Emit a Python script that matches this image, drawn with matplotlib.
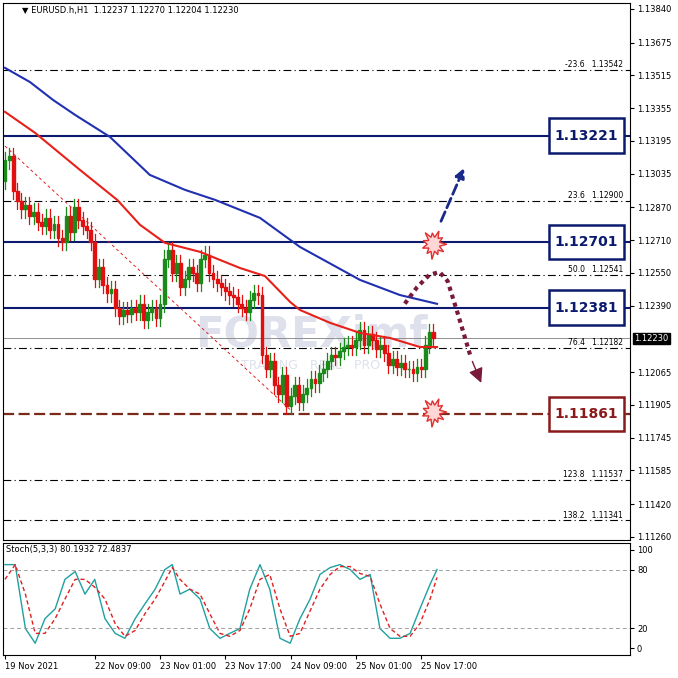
import matplotlib
matplotlib.use("Agg")
import matplotlib.pyplot as plt
import numpy as np
from matplotlib.patches import Rectangle, Polygon

closes = [1.1310,1.1312,1.1295,1.1290,1.1286,1.1288,1.1283,1.1285,1.1280,1.1278,
          1.1282,1.1276,1.1279,1.1272,1.1270,1.1283,1.1275,1.1287,1.1281,1.1278,
          1.1276,1.1270,1.1252,1.1258,1.1249,1.1245,1.1247,1.1238,1.1234,1.1237,
          1.1235,1.1238,1.1236,1.1240,1.1232,1.1236,1.1238,1.1233,1.1240,1.1262,
          1.1266,1.1255,1.1260,1.1248,1.1252,1.1258,1.1255,1.1250,1.1262,1.1264,
          1.1255,1.1252,1.1250,1.1248,1.1246,1.1244,1.1243,1.1240,1.1238,1.1236,
          1.1242,1.1245,1.1244,1.1215,1.1208,1.1212,1.1200,1.1196,1.1205,1.1190,
          1.1195,1.1200,1.1192,1.1196,1.1199,1.1203,1.1201,1.1206,1.1208,1.1212,
          1.1215,1.1214,1.1217,1.1219,1.1220,1.1219,1.1222,1.1227,1.1220,1.1225,
          1.1222,1.1218,1.1220,1.1216,1.1210,1.1213,1.1209,1.1211,1.1208,1.1208,
          1.1206,1.1209,1.1208,1.1220,1.1226,1.1223]
first_open = 1.1300
wick = 0.0004

red_ma_x = [0,7.4,18.4,27.5,33.1,39.2,47.8,57.6,63.7,69.9,72.3,79.7,87,94.4,101.7,105.9]
red_ma_y = [1.13337,1.13234,1.13053,1.12907,1.12785,1.12697,1.12653,1.12574,1.12535,1.12408,
            1.12369,1.12306,1.12257,1.12232,1.12188,1.12188]
blue_ma_x = [0,6.1,11.8,17.2,25.7,35.5,44.1,51.5,62.5,72.3,87,96.8,105.9]
blue_ma_y = [1.13552,1.13483,1.13395,1.13322,1.13215,1.13029,1.12956,1.12907,1.12819,1.12677,
             1.12516,1.12442,1.12399]

hlines_solid = [1.13221, 1.12701, 1.12381]
support = 1.11861
fib_levels = [1.13542, 1.12900, 1.12541, 1.12182, 1.11537, 1.11341]
fib_names = ["-23.6", "23.6", "50.0", "76.4", "123.8", "138.2"]
price_ticks = [1.13840,1.13675,1.13515,1.13355,1.13195,1.13035,1.12870,1.12710,1.12550,
               1.12390,1.12065,1.11905,1.11745,1.11585,1.11420,1.11260]
last_price = 1.12230

stoch_x = [0,2.5,5,7.4,9.8,12.3,14.7,17.2,19.6,22,24.5,27,29.4,31.9,34.3,36.8,39.2,41,42.9,
           45.3,47.8,50.2,52.7,55.1,57.6,60,62.5,64.9,67.4,69.9,72.3,74.8,77.2,79.7,82.1,
           84.6,87,89.5,91.9,94.4,96.8,99.3,101.7,104.2,105.9]
stoch_main = [85,85,20,5,30,40,70,78,55,70,30,15,10,30,45,60,80,85,55,60,50,20,10,15,20,60,85,
              60,10,5,30,50,75,82,85,80,70,75,20,10,10,15,40,65,80]
stoch_sig = [70,85,55,15,15,30,50,70,70,62,50,25,12,18,35,50,68,82,70,60,55,35,15,12,18,40,70,
             75,40,12,15,38,60,75,83,83,76,73,45,20,12,12,25,50,72]
time_pos = [0,22,38,54,70,86,102]
time_labels = ["19 Nov 2021","22 Nov 09:00","23 Nov 01:00","23 Nov 17:00","24 Nov 09:00","25 Nov 01:00","25 Nov 17:00"]

W = 678
fig = plt.figure(figsize=(6.78,6.78), dpi=100)
fig.patch.set_facecolor("white")
ax = fig.add_axes([3/W, 1-540/W, 627/W, 537/W])
sx = fig.add_axes([3/W, 1-655/W, 627/W, 112/W])
xlim = (-0.49, 153.2)
ax.set_xlim(*xlim); sx.set_xlim(*xlim)
ax.set_ylim(1.11245, 1.13869)
sx.set_ylim(-7, 107)

opens = [first_open] + closes[:-1]
for i,(o,c) in enumerate(zip(opens, closes)):
    col = "#1a8a1a" if c >= o else "#e01010"
    ax.plot([i,i],[min(o,c)-wick, max(o,c)+wick], color=col, lw=0.9, zorder=3)
    ax.add_patch(Rectangle((i-0.35, min(o,c)), 0.7, max(abs(c-o),0.00003), color=col, zorder=3))

ax.plot(red_ma_x, red_ma_y, color="#e8201a", lw=1.5, zorder=4)
ax.plot(blue_ma_x, blue_ma_y, color="#2030b0", lw=1.5, zorder=4)
for h in hlines_solid:
    ax.axhline(h, color="#0c1a6e", lw=1.5, zorder=2)
ax.axhline(support, color="#7a2a1a", lw=1.6, ls=(0,(5,2)), zorder=2)
for lv, nm in zip(fib_levels, fib_names):
    ax.axhline(lv, color="black", lw=0.8, ls=(0,(7,3,1,3)), zorder=1)
    ax.text(151.5, lv+0.00004, f"{nm}   {lv:.5f}", fontsize=5.5, ha="right", va="bottom")
ax.axhline(last_price, color="#909090", lw=0.7, zorder=1)
ax.plot([0,70],[1.1317,1.1188], color="#e02020", lw=0.7, ls=(0,(3,3)), zorder=2)

ax.text(75, 1.1225, "FOREXimf", fontsize=30, fontweight="bold", color="#c8cde0", alpha=0.6,
        ha="center", va="center", zorder=0)
ax.text(75, 1.1210, "TRADING   REAL   PRO", fontsize=9, color="#c8cde0", alpha=0.6,
        ha="center", va="center", zorder=0)

for lv, ec in [(1.13221,"#0c1a6e"),(1.12701,"#0c1a6e"),(1.12381,"#0c1a6e"),(1.11861,"#8a1a1a")]:
    ax.add_patch(Rectangle((133.3, lv-0.00085), 18.5, 0.0017, facecolor="white", edgecolor=ec, lw=1.8, zorder=6))
    ax.text(142.5, lv, f"{lv:.5f}", fontsize=10, fontweight="bold", color=ec, ha="center", va="center", zorder=7)

ax.annotate("", xy=(112.8, 1.13075), xytext=(106.6, 1.1279),
            arrowprops=dict(arrowstyle="-|>", color="#1a2a8a", lw=2, ls="--", mutation_scale=14), zorder=5)
cx = [98, 101, 104, 106.5, 108.5, 111, 114]
cy = [1.1240, 1.1248, 1.1254, 1.12555, 1.1251, 1.1235, 1.1215]
ax.plot(cx, cy, color="#7a1a3a", lw=3, ls=(0,(1,1)), zorder=5)
ax.annotate("", xy=(117, 1.1200), xytext=(114.3, 1.1213),
            arrowprops=dict(arrowstyle="-|>", color="#7a1a3a", lw=1, mutation_scale=22), zorder=5)

def star(cxp, cyp):
    n = 22
    ang = np.linspace(0, 2*np.pi, n+1)[:-1]
    r = np.array([1.0,0.45,0.8,0.5,0.95,0.45,0.75,0.5,1.0,0.45,0.85,0.5,0.9,0.45,0.8,0.5,1.0,0.45,0.75,0.5,0.9,0.45])
    xs = cxp + 3.2*r*np.cos(ang)
    ys = cyp + 0.00075*r*np.sin(ang)
    ax.add_patch(Polygon(np.c_[xs,ys], closed=True, facecolor="#ffd6d6", edgecolor="#e03030", lw=1, zorder=6))
star(105.1, 1.1269)
star(105.1, 1.1187)

ax.yaxis.tick_right()
ax.set_yticks(price_ticks)
ax.set_yticklabels([f"{t:.5f}" for t in price_ticks], fontsize=6)
ax.tick_params(axis="y", length=3, pad=2)
ax.set_xticks([])
ax.annotate(f"{last_price:.5f}", xy=(1.0, last_price), xycoords=("axes fraction","data"),
            xytext=(3,0), textcoords="offset points", fontsize=6, color="white", va="center",
            bbox=dict(boxstyle="square,pad=0.15", fc="black", ec="black"))
ax.text(0.03, 0.994, "▼ EURUSD.h,H1  1.12237 1.12270 1.12204 1.12230", transform=ax.transAxes,
        fontsize=6, va="top", ha="left")

sx.plot(stoch_x, stoch_main, color="#20a0a0", lw=1)
sx.plot(stoch_x, stoch_sig, color="#e02020", lw=1, ls=(0,(3,2)))
for lv in (80, 20):
    sx.axhline(lv, color="#a0a0a0", lw=0.7, ls=(0,(4,3)))
sx.yaxis.tick_right()
sx.set_yticks([100,80,20,0])
sx.set_yticklabels(["100","80","20","0"], fontsize=6)
sx.tick_params(axis="y", length=3, pad=2)
sx.set_xticks(time_pos)
sx.set_xticklabels(time_labels, fontsize=6, ha="left")
sx.tick_params(axis="x", length=3, pad=2)
sx.text(0.005, 0.98, "Stoch(5,3,3) 80.1932 72.4837", transform=sx.transAxes, fontsize=6, va="top")

fig.savefig("out.png", dpi=100, facecolor="white")
